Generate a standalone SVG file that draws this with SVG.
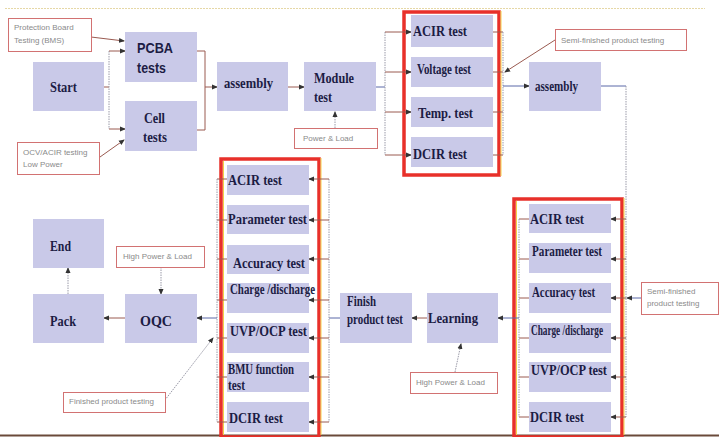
<svg xmlns="http://www.w3.org/2000/svg" width="719" height="437" viewBox="0 0 719 437">
<style>
.n{fill:#c9c9e8}
.t{font-family:"Liberation Serif",serif;font-weight:bold;fill:#1c1c44;font-size:15px}
.s{font-family:"Liberation Sans",sans-serif;font-weight:bold;fill:#1c1c44;font-size:15px}
.c{fill:#fff;stroke:#d27272;stroke-width:1}
.ct{font-family:"Liberation Sans",sans-serif;font-size:8px;fill:#8a8a8a}
.red{fill:none;stroke:#e8302a;stroke-width:3.5}
.yel{fill:none;stroke:#f2d24a;stroke-width:1}
.l{fill:none;stroke:#9a5a50;stroke-width:1}
.b{fill:none;stroke:#5a68a8;stroke-width:1}
.v{fill:none;stroke:#9a9aa8;stroke-width:1;stroke-dasharray:1.5,1}
.a{marker-end:url(#ah)}
</style>
<defs>
<marker id="ah" markerWidth="6" markerHeight="6" refX="5" refY="3" orient="auto" markerUnits="userSpaceOnUse">
<path d="M0,0.5 L6,3 L0,5.5 z" fill="#333"/>
</marker>
</defs>
<rect width="719" height="437" fill="#fff"/>
<line x1="5" y1="8.5" x2="705" y2="8.5" stroke="#e6d8a6" stroke-width="1" stroke-dasharray="2,1"/>
<line x1="0" y1="435.5" x2="719" y2="435.5" stroke="#6a4a3a" stroke-width="2"/>

<g id="group-top">
<rect class="red" x="404" y="12" width="95" height="163"/>
<line class="yel" x1="501" y1="11" x2="501" y2="176"/>
</g>
<g id="group-bl">
<rect class="red" x="221" y="159" width="98" height="278"/>
<line class="yel" x1="223.5" y1="161" x2="223.5" y2="435"/>
<line class="yel" x1="321" y1="158" x2="321" y2="435"/>
</g>
<g id="group-br">
<rect class="red" x="514" y="199" width="108" height="238"/>
<line class="yel" x1="516.5" y1="201" x2="516.5" y2="435"/>
<line class="yel" x1="624" y1="198" x2="624" y2="435"/>
</g>

<g id="connectors">
<path class="l" d="M104,87 H109"/>
<path class="v" d="M109,51 V129"/>
<path class="l a" d="M109,51 H125"/>
<path class="l a" d="M109,129 H125"/>
<path class="l" d="M197,51 H205 V130 H197"/>
<path class="l a" d="M205,87 H217"/>
<path class="l a" d="M288,87 H304"/>
<path class="b" d="M376,87 H385"/>
<path class="v" d="M385,32 V155"/>
<path class="l a" d="M385,32 H411"/>
<path class="l a" d="M385,72 H411"/>
<path class="l a" d="M385,112 H411"/>
<path class="l a" d="M385,155 H411"/>
<path class="l" d="M493,32 H503"/>
<path class="l" d="M493,72 H503"/>
<path class="l" d="M493,112 H503"/>
<path class="l" d="M493,155 H503"/>
<path class="v" d="M503,32 V155"/>
<path class="b a" d="M503,86 H529"/>
<path class="l a" d="M91,37 L124,41"/>
<path class="l a" d="M100,157 L124,140"/>
<path class="v a" d="M335,128 V112"/>
<path class="l a" d="M555,40 L505,72"/>
<path class="b" d="M601,86 H626"/>
<path class="v" d="M626,86 V417"/>
<path class="l a" d="M626,219 H611"/>
<path class="l a" d="M626,259 H611"/>
<path class="l a" d="M626,298 H611"/>
<path class="l a" d="M626,338 H611"/>
<path class="l a" d="M626,377 H611"/>
<path class="l a" d="M626,417 H611"/>
<path class="b a" d="M641,298 H627"/>
<path class="l" d="M529,219 H519 M529,259 H519 M529,298 H519 M529,338 H519 M529,377 H519 M529,417 H519"/>
<path class="v" d="M519,219 V417"/>
<path class="b a" d="M519,318 H498"/>
<path class="l a" d="M427,318 H412"/>
<path class="v a" d="M455,372 L461,344"/>
<path class="b" d="M340,318 H329"/>
<path class="v" d="M329,179 V422"/>
<path class="l a" d="M329,179 H309"/>
<path class="l a" d="M329,220 H309"/>
<path class="l a" d="M329,259 H309"/>
<path class="l a" d="M329,300 H309"/>
<path class="l a" d="M329,338 H309"/>
<path class="l a" d="M329,377 H309"/>
<path class="l a" d="M329,422 H309"/>
<path class="l" d="M227,179 H217 M227,220 H217 M227,259 H217 M227,300 H217 M227,338 H217 M227,377 H217 M227,422 H217"/>
<path class="v" d="M217,179 V422"/>
<path class="b a" d="M217,318 H197"/>
<path class="l a" d="M125,318 H104"/>
<path class="v a" d="M68,294 V268"/>
<path class="v a" d="M161,267 V294"/>
<path class="v a" d="M165,400 L213,338"/>
</g>

<g id="start"><rect class="n" x="33" y="62" width="71" height="49"/><text class="t" x="50" y="92" font-size="17" textLength="27" lengthAdjust="spacingAndGlyphs">Start</text></g>
<g id="pcba"><rect class="n" x="125" y="32" width="72" height="50"/><text class="s" x="137" y="53" textLength="36" lengthAdjust="spacingAndGlyphs">PCBA</text><text class="s" x="137" y="73" textLength="29" lengthAdjust="spacingAndGlyphs">tests</text></g>
<g id="cell"><rect class="n" x="125" y="101" width="72" height="50"/><text class="t" x="144" y="123" font-size="16" textLength="21" lengthAdjust="spacingAndGlyphs">Cell</text><text class="t" x="143" y="142" font-size="16" textLength="24" lengthAdjust="spacingAndGlyphs">tests</text></g>
<g id="assembly1"><rect class="n" x="217" y="62" width="71" height="49"/><text class="t" x="224" y="88" font-size="16" textLength="49" lengthAdjust="spacingAndGlyphs">assembly</text></g>
<g id="module"><rect class="n" x="304" y="62" width="72" height="49"/><text class="t" x="314" y="83" font-size="16" textLength="40" lengthAdjust="spacingAndGlyphs">Module</text><text class="t" x="314" y="102" font-size="16" textLength="18" lengthAdjust="spacingAndGlyphs">test</text></g>
<g id="acir1"><rect class="n" x="411" y="15" width="82" height="32"/><text class="t" x="413" y="36" font-size="16" textLength="54" lengthAdjust="spacingAndGlyphs">ACIR test</text></g>
<g id="voltage"><rect class="n" x="411" y="57" width="82" height="30"/><text class="t" x="417" y="74" font-size="13" textLength="54" lengthAdjust="spacingAndGlyphs">Voltage test</text></g>
<g id="temp"><rect class="n" x="411" y="97" width="82" height="30"/><text class="t" x="418" y="118" font-size="15" textLength="55" lengthAdjust="spacingAndGlyphs">Temp. test</text></g>
<g id="dcir1"><rect class="n" x="411" y="137" width="82" height="30"/><text class="t" x="413" y="159" font-size="16" textLength="54" lengthAdjust="spacingAndGlyphs">DCIR test</text></g>
<g id="assembly2"><rect class="n" x="529" y="62" width="72" height="49"/><text class="t" x="535" y="91" font-size="14" textLength="43" lengthAdjust="spacingAndGlyphs">assembly</text></g>

<g id="end"><rect class="n" x="33" y="219" width="71" height="49"/><text class="t" x="50" y="251" font-size="17" textLength="21" lengthAdjust="spacingAndGlyphs">End</text></g>
<g id="pack"><rect class="n" x="33" y="294" width="71" height="49"/><text class="t" x="50" y="326" font-size="17" textLength="26" lengthAdjust="spacingAndGlyphs">Pack</text></g>
<g id="oqc"><rect class="n" x="125" y="294" width="72" height="49"/><text class="t" x="140" y="326" font-size="17" textLength="32" lengthAdjust="spacingAndGlyphs">OQC</text></g>

<g id="acir2"><rect class="n" x="227" y="165" width="82" height="30"/><text class="t" x="228" y="185" font-size="16" textLength="54" lengthAdjust="spacingAndGlyphs">ACIR test</text></g>
<g id="param2"><rect class="n" x="227" y="205" width="82" height="29"/><text class="t" x="228" y="224" font-size="15" textLength="79" lengthAdjust="spacingAndGlyphs">Parameter test</text></g>
<g id="accuracy2"><rect class="n" x="227" y="245" width="82" height="29"/><text class="t" x="233" y="268" font-size="15" textLength="72" lengthAdjust="spacingAndGlyphs">Accuracy test</text></g>
<g id="charge2"><rect class="n" x="227" y="283" width="82" height="30"/><text class="t" x="230" y="294" font-size="14" textLength="85" lengthAdjust="spacingAndGlyphs">Charge /discharge</text></g>
<g id="uvp2"><rect class="n" x="227" y="323" width="82" height="30"/><text class="t" x="230" y="336" font-size="16" textLength="77" lengthAdjust="spacingAndGlyphs">UVP/OCP test</text></g>
<g id="bmu"><rect class="n" x="227" y="362" width="82" height="30"/><text class="t" x="228" y="374" font-size="13" textLength="66" lengthAdjust="spacingAndGlyphs">BMU function</text><text class="t" x="228" y="390" font-size="13" textLength="17" lengthAdjust="spacingAndGlyphs">test</text></g>
<g id="dcir2"><rect class="n" x="227" y="402" width="82" height="30"/><text class="t" x="229" y="423" font-size="16" textLength="54" lengthAdjust="spacingAndGlyphs">DCIR test</text></g>

<g id="finish"><rect class="n" x="340" y="293" width="72" height="50"/><text class="t" x="347" y="306" font-size="14" textLength="29" lengthAdjust="spacingAndGlyphs">Finish</text><text class="t" x="347" y="324" font-size="14" textLength="56" lengthAdjust="spacingAndGlyphs">product test</text></g>
<g id="learning"><rect class="n" x="427" y="293" width="71" height="50"/><text class="t" x="428" y="323" font-size="17" textLength="50" lengthAdjust="spacingAndGlyphs">Learning</text></g>

<g id="acir3"><rect class="n" x="529" y="204" width="82" height="29"/><text class="t" x="530" y="224" font-size="16" textLength="54" lengthAdjust="spacingAndGlyphs">ACIR test</text></g>
<g id="param3"><rect class="n" x="529" y="243" width="82" height="30"/><text class="t" x="532" y="256" font-size="13" textLength="70" lengthAdjust="spacingAndGlyphs">Parameter test</text></g>
<g id="accuracy3"><rect class="n" x="529" y="283" width="82" height="30"/><text class="t" x="532" y="297" font-size="13" textLength="63" lengthAdjust="spacingAndGlyphs">Accuracy test</text></g>
<g id="charge3"><rect class="n" x="529" y="323" width="82" height="30"/><text class="t" x="531" y="335" font-size="12" textLength="72" lengthAdjust="spacingAndGlyphs">Charge /discharge</text></g>
<g id="uvp3"><rect class="n" x="529" y="362" width="82" height="30"/><text class="t" x="531" y="375" font-size="16" textLength="76" lengthAdjust="spacingAndGlyphs">UVP/OCP test</text></g>
<g id="dcir3"><rect class="n" x="529" y="402" width="82" height="30"/><text class="t" x="530" y="422" font-size="16" textLength="54" lengthAdjust="spacingAndGlyphs">DCIR test</text></g>

<g id="note-bms"><rect class="c" x="8.5" y="18.5" width="83" height="33"/><text class="ct" x="14" y="30">Protection Board</text><text class="ct" x="14" y="43">Testing (BMS)</text></g>
<g id="note-ocv"><rect class="c" x="17.5" y="142.5" width="82" height="32"/><text class="ct" x="23" y="155">OCV/ACIR testing</text><text class="ct" x="23" y="167">Low Power</text></g>
<g id="note-power"><rect class="c" x="294.5" y="128.5" width="83" height="20"/><text class="ct" x="303" y="141">Power &amp; Load</text></g>
<g id="note-semi1"><rect class="c" x="555.5" y="29.5" width="131" height="21"/><text class="ct" x="561" y="43">Semi-finished product testing</text></g>
<g id="note-hpl1"><rect class="c" x="116.5" y="246.5" width="88" height="21"/><text class="ct" x="123" y="259">High Power &amp; Load</text></g>
<g id="note-finished"><rect class="c" x="63.5" y="392.5" width="102" height="20"/><text class="ct" x="69" y="404">Finished product testing</text></g>
<g id="note-hpl2"><rect class="c" x="410.5" y="372.5" width="87" height="21"/><text class="ct" x="416" y="385">High Power &amp; Load</text></g>
<g id="note-semi2"><rect class="c" x="641.5" y="282.5" width="77" height="32"/><text class="ct" x="647" y="294">Semi-finished</text><text class="ct" x="647" y="306">product testing</text></g>
</svg>
